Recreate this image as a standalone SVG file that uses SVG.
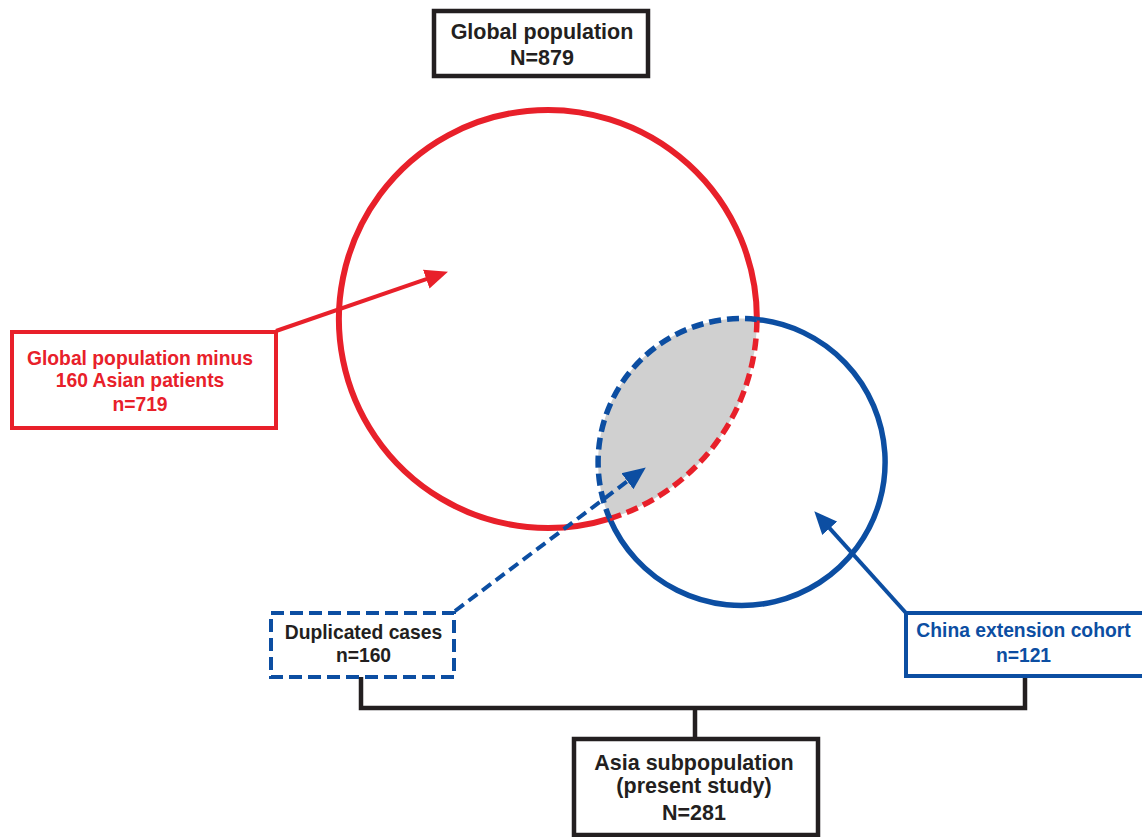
<svg xmlns="http://www.w3.org/2000/svg" width="1142" height="837" viewBox="0 0 1142 837">
<defs>
<style>
.t{font-family:"Liberation Sans",Arial,sans-serif;font-weight:bold;text-anchor:middle}
.big{font-size:21.5px;fill:#231f20}
.red{font-size:19.3px;fill:#e8202a}
.blue{font-size:19.3px;fill:#0c4ea2}
.dark{font-size:19.3px;fill:#231f20}
.bk{fill:#fff;stroke:#231f20;stroke-width:4.5}
</style>
<marker id="ahR" markerUnits="userSpaceOnUse" markerWidth="24" markerHeight="22" refX="10" refY="11" orient="auto"><path d="M0,1 L23,11 L0,21 Z" fill="#e8202a"/></marker>
<marker id="ahB" markerUnits="userSpaceOnUse" markerWidth="24" markerHeight="22" refX="10" refY="11" orient="auto"><path d="M0,1 L23,11 L0,21 Z" fill="#0c4ea2"/></marker>
</defs>
<rect width="1142" height="837" fill="#fff"/>
<g id="venn">
<path d="M756.9,319.4 A143.5,143.5 0 0 0 609.7,518.6 A209,209 0 0 0 756.9,319.4 Z" fill="#d0d0d0"/>
<path d="M756.9,319.4 A209,209 0 1 0 609.7,518.6" fill="none" stroke="#e8202a" stroke-width="6"/>
<path d="M756.9,319.4 A143.5,143.5 0 1 1 609.7,518.6" fill="none" stroke="#0c4ea2" stroke-width="5.5"/>
<path d="M609.7,518.6 A209,209 0 0 0 756.9,319.4" fill="none" stroke="#e8202a" stroke-width="5.5" stroke-dasharray="12 6"/>
<path d="M756.9,319.4 A143.5,143.5 0 0 0 609.7,518.6" fill="none" stroke="#0c4ea2" stroke-width="5.5" stroke-dasharray="12 6"/>
</g>
<g id="connectors">
<line x1="276" y1="331" x2="435.7" y2="275.9" stroke="#e8202a" stroke-width="4" marker-end="url(#ahR)"/>
<line x1="455" y1="611" x2="635.4" y2="475.2" stroke="#0c4ea2" stroke-width="4" stroke-dasharray="11 6" marker-end="url(#ahB)"/>
<line x1="906" y1="613" x2="823" y2="520.9" stroke="#0c4ea2" stroke-width="4" marker-end="url(#ahB)"/>
<path d="M361,677 V708 H1025 V677 M695,708 V738" fill="none" stroke="#231f20" stroke-width="4.5"/>
</g>
<g id="global">
<rect class="bk" x="434" y="11" width="214" height="65"/>
<text class="t big" x="542" y="39">Global population</text>
<text class="t big" x="542" y="65">N=879</text>
</g>
<g id="minus">
<rect x="12" y="332" width="264" height="96" fill="#fff" stroke="#e8202a" stroke-width="4"/>
<text class="t red" x="140" y="365">Global population minus</text>
<text class="t red" x="140" y="387">160 Asian patients</text>
<text class="t red" x="140" y="411">n=719</text>
</g>
<g id="duplicated">
<rect x="271" y="613" width="183" height="64" fill="#fff" stroke="#0c4ea2" stroke-width="4" stroke-dasharray="13 6"/>
<text class="t dark" x="363.5" y="639">Duplicated cases</text>
<text class="t dark" x="363.5" y="662">n=160</text>
</g>
<g id="china">
<rect x="906" y="613" width="250" height="63" fill="#fff" stroke="#0c4ea2" stroke-width="4"/>
<text class="t blue" x="1023.5" y="637">China extension cohort</text>
<text class="t blue" x="1023.5" y="662">n=121</text>
</g>
<g id="asia">
<rect class="bk" x="574" y="739" width="244" height="96"/>
<text class="t big" x="694" y="770">Asia subpopulation</text>
<text class="t big" x="694" y="793">(present study)</text>
<text class="t big" x="694" y="820">N=281</text>
</g>
</svg>
